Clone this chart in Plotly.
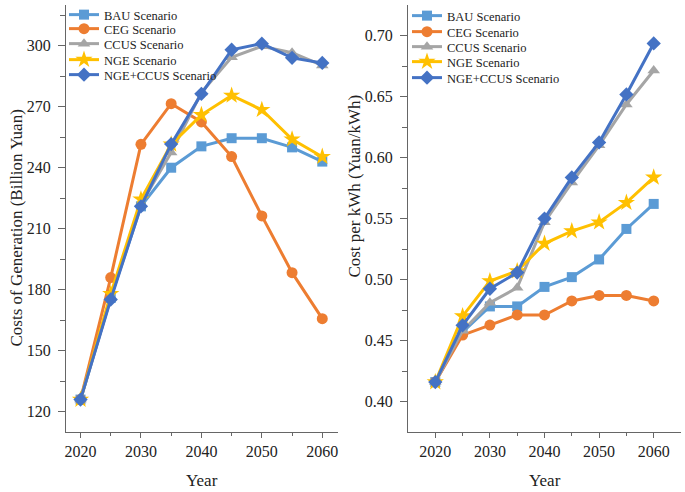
import plotly.graph_objects as go
from plotly.subplots import make_subplots

years = [2020, 2025, 2030, 2035, 2040, 2045, 2050, 2055, 2060]
series_names = ["BAU Scenario", "CEG Scenario", "CCUS Scenario", "NGE Scenario", "NGE+CCUS Scenario"]

cost_bau = [126, 176, 221, 240, 250.5, 254.5, 254.5, 250, 243]
cost_ceg = [126, 186, 251.5, 271.5, 262.5, 245.5, 216.3, 188.4, 165.8]
cost_ccus = [126, 176, 222, 247.5, 277, 294.3, 299.7, 296.5, 290.3]
cost_nge = [126, 178, 224.5, 251.5, 266, 275.5, 268.5, 254, 245.4]
cost_ngeccus = [126, 175.2, 221, 251.6, 276.3, 298, 301, 294, 291.5]

kwh_bau = [0.416, 0.457, 0.478, 0.478, 0.494, 0.502, 0.5165, 0.5415, 0.562]
kwh_ceg = [0.416, 0.4545, 0.4627, 0.471, 0.471, 0.4825, 0.487, 0.487, 0.4825]
kwh_ccus = [0.416, 0.458, 0.481, 0.4933, 0.547, 0.5795, 0.61, 0.6435, 0.6713]
kwh_nge = [0.416, 0.470, 0.4988, 0.507, 0.5295, 0.5397, 0.547, 0.563, 0.5837]
kwh_ngeccus = [0.416, 0.4625, 0.4925, 0.5057, 0.550, 0.5837, 0.6124, 0.6517, 0.6935]

colors = ["#5B9BD5", "#ED7D31", "#A5A5A5", "#FFC000", "#4472C4"]
symbols = ["square", "circle", "triangle-up", "star", "diamond"]
msizes = [10, 11, 11, 13, 11]

left_data = [cost_bau, cost_ceg, cost_ccus, cost_nge, cost_ngeccus]
right_data = [kwh_bau, kwh_ceg, kwh_ccus, kwh_nge, kwh_ngeccus]

W, H = 685, 492
FONT = "Liberation Serif, Times New Roman, serif"

fig = make_subplots(rows=1, cols=2)

for i, name in enumerate(series_names):
    fig.add_trace(go.Scatter(
        x=years, y=left_data[i], mode="lines+markers", name=name,
        line=dict(color=colors[i], width=3),
        marker=dict(symbol=symbols[i], size=msizes[i], color=colors[i]),
        legend="legend" if i == 0 else f"legend{i + 1}"), row=1, col=1)
for i, name in enumerate(series_names):
    fig.add_trace(go.Scatter(
        x=years, y=right_data[i], mode="lines+markers", name=name,
        line=dict(color=colors[i], width=3),
        marker=dict(symbol=symbols[i], size=msizes[i], color=colors[i]),
        legend=f"legend{i + 6}"), row=1, col=2)

axis_common = dict(
    showgrid=False, zeroline=False, showline=True, linecolor="#666666", linewidth=1,
    ticks="outside", tickcolor="#666666",
    tickfont=dict(family=FONT, size=16, color="#222222"),
    automargin=False,
)
xaxis_extra = dict(ticklen=5, minor=dict(ticks="outside", ticklen=3, tickcolor="#666666"))
yaxis_extra = dict(ticklen=7, ticklabelstandoff=4,
                   minor=dict(ticks="outside", ticklen=5, tickcolor="#666666"))

x0L, x1L = 66 / W, 338 / W
x0R, x1R = 408 / W, 681 / W
y0, y1 = 1 - 432 / H, 1 - 4 / H

fig.update_xaxes(**axis_common, **xaxis_extra, domain=[x0L, x1L], range=[2017.6, 2062.6],
                 tickvals=[2020, 2030, 2040, 2050, 2060],
                 minor_tickvals=[2025, 2035, 2045, 2055], row=1, col=1)
fig.update_xaxes(**axis_common, **xaxis_extra, domain=[x0R, x1R], range=[2015, 2065],
                 tickvals=[2020, 2030, 2040, 2050, 2060],
                 minor_tickvals=[2025, 2035, 2045, 2055], row=1, col=2)
fig.update_yaxes(**axis_common, **yaxis_extra, domain=[y0, y1], range=[110, 320],
                 tickvals=[120, 150, 180, 210, 240, 270, 300],
                 minor_tickvals=[135, 165, 195, 225, 255, 285, 315], row=1, col=1)
fig.update_yaxes(**axis_common, **yaxis_extra, domain=[y0, y1], range=[0.375, 0.725],
                 tickvals=[0.40, 0.45, 0.50, 0.55, 0.60, 0.65, 0.70],
                 tickformat=".2f",
                 minor_tickvals=[0.425, 0.475, 0.525, 0.575, 0.625, 0.675], row=1, col=2)

legend_common = dict(
    bgcolor="rgba(0,0,0,0)", borderwidth=0,
    font=dict(family=FONT, size=12.5, color="#222222"),
    tracegroupgap=0, itemwidth=30, yanchor="middle", xanchor="left",
    itemsizing="trace",
    itemclick=False, itemdoubleclick=False,
)
left_rows = [14, 29, 44, 60, 75]
right_rows = [16, 32, 47, 62, 78]
legends = {}
for i in range(5):
    key = "legend" if i == 0 else f"legend{i + 1}"
    legends[key] = dict(**legend_common, x=64 / W, y=1 - left_rows[i] / H)
    legends[f"legend{i + 6}"] = dict(**legend_common, x=407 / W, y=1 - right_rows[i] / H)
fig.update_layout(**legends)

annos = [
    dict(text="Costs of Generation (Billion Yuan)", x=17 / W, y=1 - 228 / H, textangle=-90),
    dict(text="Cost per kWh (Yuan/kWh)", x=355 / W, y=1 - 186 / H, textangle=-90),
    dict(text="Year", x=202 / W, y=1 - 480 / H, textangle=0),
    dict(text="Year", x=545 / W, y=1 - 480 / H, textangle=0),
]
for a in annos:
    fig.add_annotation(xref="paper", yref="paper", showarrow=False,
                       xanchor="center", yanchor="middle",
                       font=dict(family=FONT, size=17, color="#222222"), **a)

fig.update_layout(
    width=W, height=H, margin=dict(l=0, r=0, t=0, b=0),
    paper_bgcolor="white", plot_bgcolor="white",
    showlegend=True,
)

fig.write_html("out.html", config={"displayModeBar": False},
               post_script="document.body.style.margin='0';")
